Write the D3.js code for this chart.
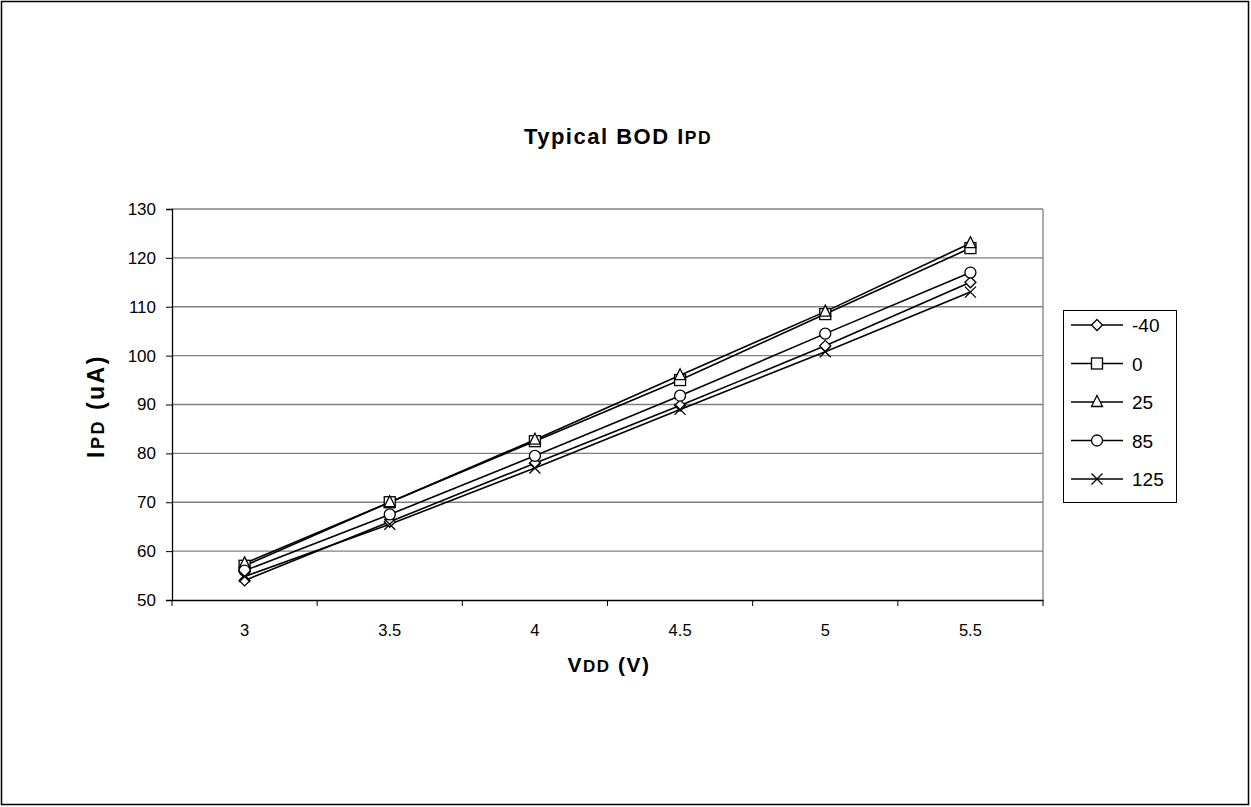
<!DOCTYPE html>
<html><head><meta charset="utf-8">
<script src="https://cdn.jsdelivr.net/npm/d3@7"></script>
<style>body{margin:0;background:#fff}svg{display:block;font-family:"Liberation Sans",Arial,sans-serif}</style>
</head><body>
<svg id="c" width="1251" height="807"></svg>
<script>
const categories = ["3","3.5","4","4.5","5","5.5"];
const seriesNames = ["-40","0","25","85","125"];
const sMinus40 = [54, 66, 78, 89.8, 102, 115];
const s0 = [57, 70, 82.5, 95, 108.5, 122];
const s25 = [57.5, 70, 82.8, 96, 109, 123];
const s85 = [56, 67.5, 79.5, 91.8, 104.5, 117];
const s125 = [54.8, 65.5, 77, 89, 100.8, 113];
const yTicks = [50,60,70,80,90,100,110,120,130];
const symbols = ["diamond","square","triangle","circle","cross"];

const series = [sMinus40, s0, s25, s85, s125].map((v,i)=>({name:seriesNames[i], values:v, sym:symbols[i]}));

const svg = d3.select("#c");
svg.append("rect").attr("x",1.5).attr("y",1.5).attr("width",1247).attr("height",803).attr("fill","#fff").attr("stroke","#000").attr("stroke-width",1.5);

const L=172, R=1043, T=209, B=600;
const x = d3.scaleBand().domain(categories).range([L,R]);
const y = d3.scaleLinear().domain([50,130]).range([B,T]);

// gridlines
svg.append("g").selectAll("line").data(yTicks.slice(1)).join("line")
  .attr("x1",L).attr("x2",R).attr("y1",d=>y(d)).attr("y2",d=>y(d))
  .attr("stroke","#808080").attr("stroke-width",1.3);
// right border
svg.append("line").attr("x1",R).attr("x2",R).attr("y1",T).attr("y2",B).attr("stroke","#808080").attr("stroke-width",1.3);

// axes
const yAxis = d3.axisLeft(y).tickValues(yTicks).tickSize(6).tickPadding(10);
const gy = svg.append("g").attr("transform",`translate(${L},0)`).call(yAxis);
gy.select(".domain").attr("stroke","#000").attr("stroke-width",1.3);
gy.selectAll(".tick line").attr("stroke","#000");
gy.selectAll("text").attr("font-size",17).attr("fill","#000").attr("font-family","Liberation Sans, Arial, sans-serif");

const xAxis = d3.axisBottom(x).tickSize(0).tickPadding(24);
const gx = svg.append("g").attr("transform",`translate(0,${B})`).call(xAxis);
gx.select(".domain").attr("stroke","#000").attr("stroke-width",1.3);
gx.selectAll("text").attr("font-size",16.5).attr("fill","#000").attr("font-family","Liberation Sans, Arial, sans-serif");
// category boundary ticks
const bounds = categories.map(c=>x(c)).concat([x(categories[categories.length-1])+x.bandwidth()]);
gx.append("g").selectAll("line").data(bounds).join("line")
  .attr("x1",d=>d).attr("x2",d=>d).attr("y1",0).attr("y2",6).attr("stroke","#000").attr("stroke-width",1);

const cx = c => x(c)+x.bandwidth()/2;

function marker(g, sym, px, py){
  const s = 5.5;
  if(sym==="diamond") g.append("path").attr("d",`M${px},${py-s}L${px+s},${py}L${px},${py+s}L${px-s},${py}Z`).attr("fill","#fff").attr("stroke","#000").attr("stroke-width",1.3);
  else if(sym==="square") g.append("rect").attr("x",px-s).attr("y",py-s).attr("width",2*s).attr("height",2*s).attr("fill","#fff").attr("stroke","#000").attr("stroke-width",1.3);
  else if(sym==="triangle") g.append("path").attr("d",`M${px},${py-s-1}L${px+s},${py+s-1}L${px-s},${py+s-1}Z`).attr("fill","#fff").attr("stroke","#000").attr("stroke-width",1.3);
  else if(sym==="circle") g.append("circle").attr("cx",px).attr("cy",py).attr("r",s).attr("fill","#fff").attr("stroke","#000").attr("stroke-width",1.3);
  else if(sym==="cross") g.append("path").attr("d",`M${px-s},${py-s}L${px+s},${py+s}M${px+s},${py-s}L${px-s},${py+s}`).attr("fill","none").attr("stroke","#000").attr("stroke-width",1.3);
}

const line = d3.line().x((d,i)=>cx(categories[i])).y(d=>y(d));
const gs = svg.append("g");
series.forEach(s=>{
  gs.append("path").attr("d",line(s.values)).attr("fill","none").attr("stroke","#000").attr("stroke-width",1.6);
});
series.forEach(s=>{
  s.values.forEach((v,i)=>marker(gs, s.sym, cx(categories[i]), y(v)));
});

// legend
const lg = svg.append("g");
lg.append("rect").attr("x",1063.5).attr("y",310.5).attr("width",113).attr("height",192).attr("fill","#fff").attr("stroke","#000").attr("stroke-width",1);
series.forEach((s,i)=>{
  const ly = 325 + i*38.5;
  lg.append("line").attr("x1",1071).attr("x2",1123).attr("y1",ly).attr("y2",ly).attr("stroke","#000").attr("stroke-width",1.6);
  marker(lg, s.sym, 1097, ly);
  lg.append("text").attr("x",1132).attr("y",ly+7).attr("font-size",19).text(s.name);
});

// title
const t = svg.append("text").attr("x",618).attr("y",144).attr("text-anchor","middle").attr("font-weight","bold").attr("font-size",22).attr("letter-spacing",1.5);
t.append("tspan").text("Typical BOD I");
t.append("tspan").attr("font-size",17.5).text("PD");

// y label
const yl = svg.append("text").attr("transform","translate(104,406) rotate(-90)").attr("text-anchor","middle").attr("font-weight","bold").attr("font-size",23).attr("letter-spacing",2.5);
yl.append("tspan").text("I");
yl.append("tspan").attr("font-size",18).text("PD");
yl.append("tspan").text(" (uA)");

// x label
const xl = svg.append("text").attr("x",609).attr("y",672).attr("text-anchor","middle").attr("font-weight","bold").attr("font-size",21).attr("letter-spacing",1.5);
xl.append("tspan").text("V");
xl.append("tspan").attr("font-size",17).text("DD");
xl.append("tspan").text(" (V)");
</script>
</body></html>
